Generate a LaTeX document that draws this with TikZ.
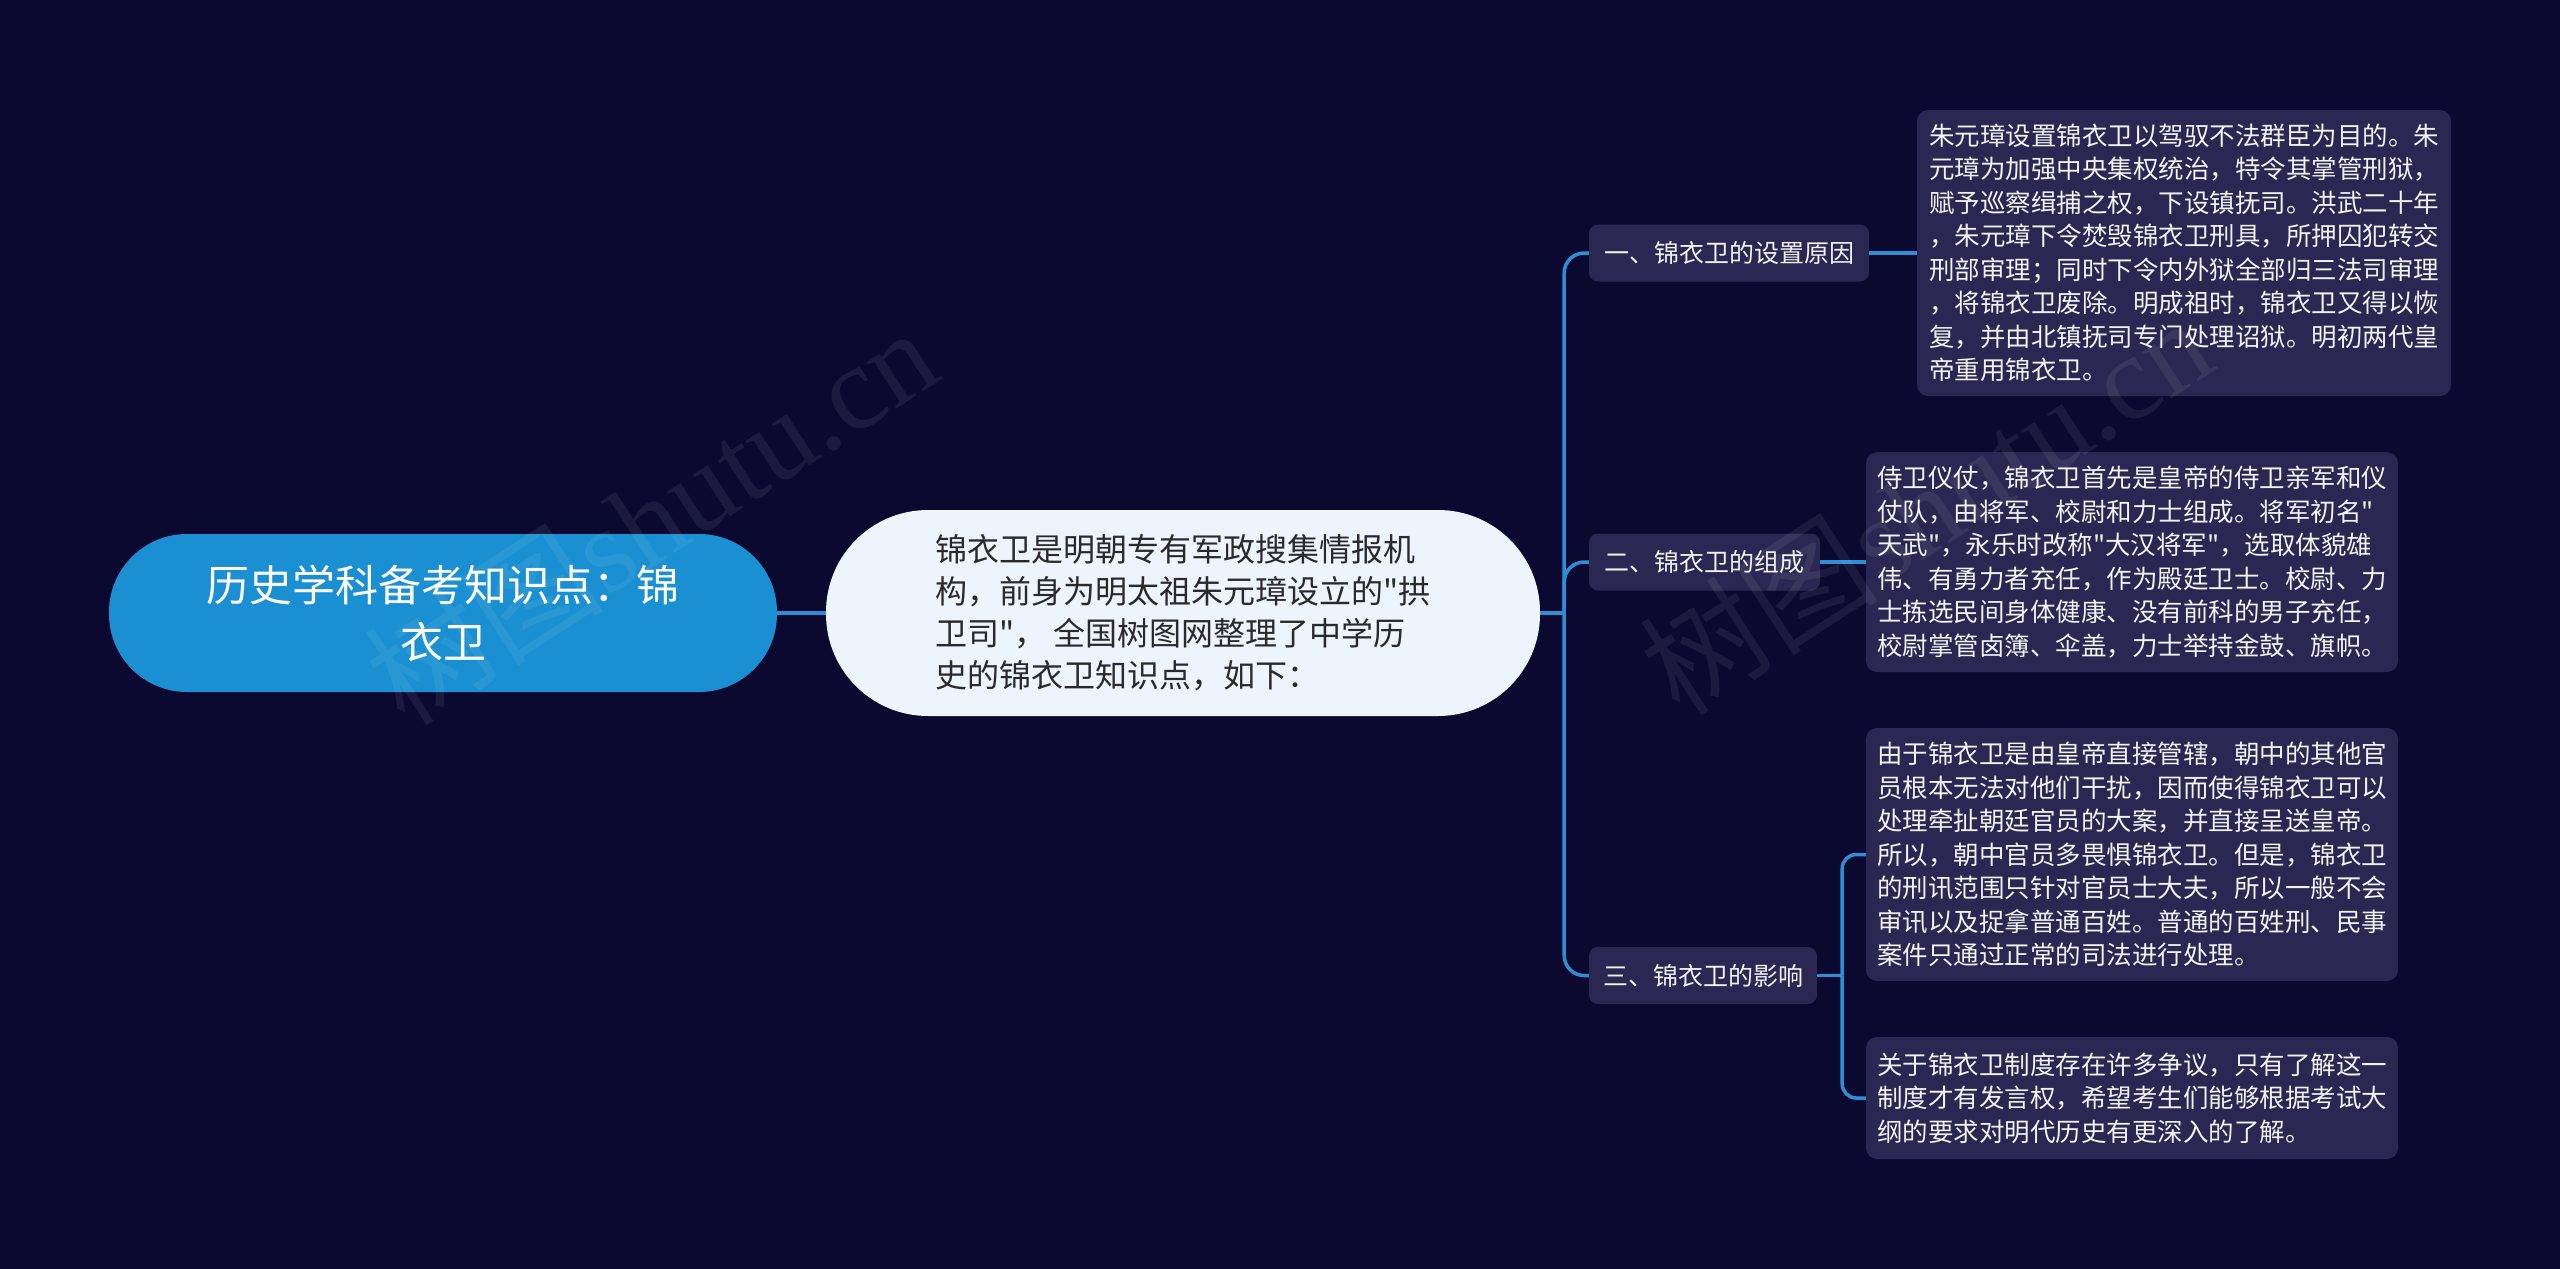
\documentclass[tikz,border=0pt]{standalone}
\usepackage{fontspec}
\setmainfont{Noto Sans CJK SC}[Ligatures=TeXOff]
\newfontfamily\wmlatin{Liberation Serif}
\definecolor{bgc}{HTML}{0B0930}
\definecolor{boxfill}{HTML}{2A2852}
\definecolor{linkblue}{HTML}{2C8FD6}
\definecolor{rootblue}{HTML}{1A90D2}
\definecolor{centerfill}{HTML}{EEF4FC}
\definecolor{darktext}{HTML}{2A2A2A}
\definecolor{lighttext}{HTML}{F2F2F2}
\begin{document}
\begin{tikzpicture}[x=1pt,y=-1pt,
  conn/.style={draw=linkblue, line width=3.5pt, rounded corners=20pt},
  rootbox/.style={fill=rootblue, rounded corners=78pt, text=white, align=center,
    inner sep=0pt, minimum width=668pt, minimum height=158pt,
    font=\fontsize{43pt}{57pt}\selectfont},
  centerbox/.style={fill=centerfill, rounded corners=102pt, text=darktext, align=left,
    inner sep=0pt, minimum width=714pt, minimum height=206pt,
    font=\fontsize{32pt}{42pt}\selectfont},
  branchbox/.style={fill=boxfill, rounded corners=9pt, text=lighttext, align=center,
    inner sep=0pt, minimum height=57pt, font=\fontsize{25pt}{33.5pt}\selectfont},
  leafbox/.style={fill=boxfill, rounded corners=11pt, text=lighttext, align=left,
    inner sep=0pt, font=\fontsize{25.5pt}{33.5pt}\selectfont},
  wmark/.style={text=white, text opacity=0.07, font=\fontsize{120pt}{130pt}\selectfont}
]
\useasboundingbox (0,0) rectangle (2560,1269);
\fill[bgc] (0,0) rectangle (2560,1269);

% nodes
\node[rootbox] (root) at (443,613) {历史学科备考知识点：锦\\衣卫};
\node[centerbox] (center) at (1183,613) {锦衣卫是明朝专有军政搜集情报机\\
构，前身为明太祖朱元璋设立的"拱\\
卫司"， 全国树图网整理了中学历\\
史的锦衣卫知识点，如下：};

\node[branchbox, minimum width=280pt] (b1) at (1729,253) {一、锦衣卫的设置原因};
\node[branchbox, minimum width=231pt] (b2) at (1704.5,562) {二、锦衣卫的组成};
\node[branchbox, minimum width=228pt] (b3) at (1703,975.5) {三、锦衣卫的影响};

\node[leafbox, minimum width=534pt, minimum height=286pt] (l1) at (2184,253) {朱元璋设置锦衣卫以驾驭不法群臣为目的。朱\\
元璋为加强中央集权统治，特令其掌管刑狱，\\
赋予巡察缉捕之权，下设镇抚司。洪武二十年\\
，朱元璋下令焚毁锦衣卫刑具，所押囚犯转交\\
刑部审理；同时下令内外狱全部归三法司审理\\
，将锦衣卫废除。明成祖时，锦衣卫又得以恢\\
复，并由北镇抚司专门处理诏狱。明初两代皇\\
帝重用锦衣卫。};

\node[leafbox, minimum width=532pt, minimum height=220pt] (l2) at (2132,562) {侍卫仪仗，锦衣卫首先是皇帝的侍卫亲军和仪\\
仗队，由将军、校尉和力士组成。将军初名"\\
天武"，永乐时改称"大汉将军"，选取体貌雄\\
伟、有勇力者充任，作为殿廷卫士。校尉、力\\
士拣选民间身体健康、没有前科的男子充任，\\
校尉掌管卤簿、伞盖，力士举持金鼓、旗帜。};

\node[leafbox, minimum width=532pt, minimum height=253pt] (l3) at (2132,854.5) {由于锦衣卫是由皇帝直接管辖，朝中的其他官\\
员根本无法对他们干扰，因而使得锦衣卫可以\\
处理牵扯朝廷官员的大案，并直接呈送皇帝。\\
所以，朝中官员多畏惧锦衣卫。但是，锦衣卫\\
的刑讯范围只针对官员士大夫，所以一般不会\\
审讯以及捉拿普通百姓。普通的百姓刑、民事\\
案件只通过正常的司法进行处理。};

\node[leafbox, minimum width=532pt, minimum height=122pt] (l4) at (2132,1098) {关于锦衣卫制度存在许多争议，只有了解这一\\
制度才有发言权，希望考生们能够根据考试大\\
纲的要求对明代历史有更深入的了解。};

% connectors
\draw[conn] (root.east) -- (center.west);
\coordinate (tj) at ([xshift=24pt]center.east);
\draw[conn] (center.east) -- (tj);
\draw[conn] (tj) |- (b1.west);
\draw[conn] (tj) |- (b2.west);
\draw[conn] (tj) |- (b3.west);
\draw[conn] (b1.east) -- (l1.west);
\draw[conn] (b2.east) -- (l2.west);
\coordinate (tj3) at ([xshift=25pt]b3.east);
\draw[conn] (b3.east) -- (tj3);
\draw[conn, rounded corners=14pt] (tj3) |- (l3.west);
\draw[conn, rounded corners=14pt] (tj3) |- (l4.west);

% watermarks (drawn on top, very faint)
\node[wmark, rotate=33] (wm1) at (650,515) {树图{\wmlatin shutu.cn}};
\node[wmark, rotate=33] (wm2) at (1925,505) {树图{\wmlatin shutu.cn}};
\end{tikzpicture}
\end{document}
